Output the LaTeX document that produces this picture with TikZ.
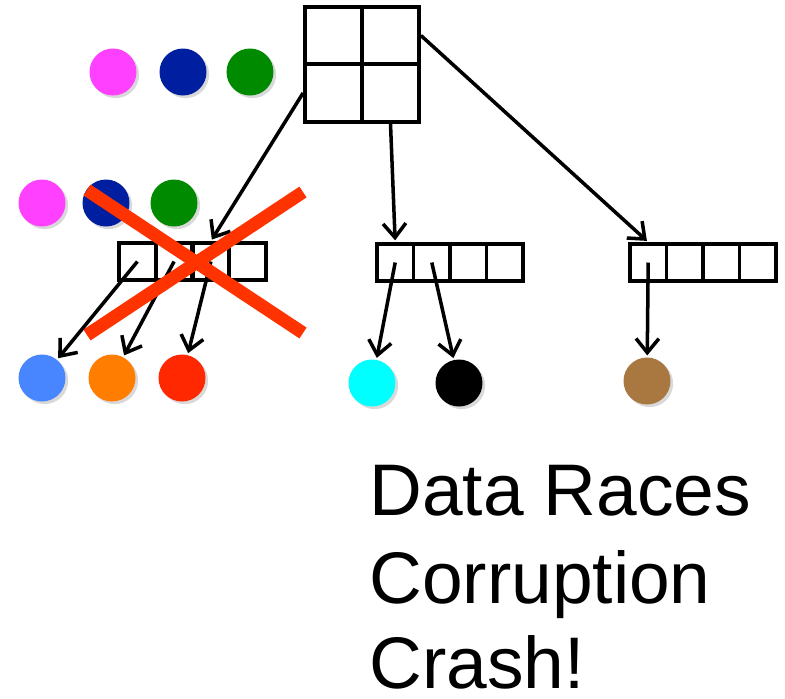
\documentclass[tikz,border=0pt]{standalone}
\usepackage{fontspec}
\setmainfont{Liberation Sans}
\usetikzlibrary{arrows.meta,positioning,shadows}

\definecolor{cMagenta}{RGB}{255,64,255}
\definecolor{cNavy}{RGB}{0,30,160}
\definecolor{cGreen}{RGB}{0,138,0}
\definecolor{cBlue}{RGB}{72,134,255}
\definecolor{cOrange}{RGB}{255,125,0}
\definecolor{cRed}{RGB}{255,40,0}
\definecolor{cCyan}{RGB}{0,255,255}
\definecolor{cBrown}{RGB}{168,120,64}
\definecolor{xred}{RGB}{255,51,0}

\begin{document}
\begin{tikzpicture}[
    x=0.02cm, y=-0.02cm,
    bucket/.style={
        rectangle,
        draw,
        line width=2.2pt,
        minimum width=1.14cm,
        minimum height=1.15cm,
        inner sep=0pt,
    },
    slot/.style={
        rectangle,
        draw,
        line width=2.2pt,
        minimum width=0.732cm,
        minimum height=0.74cm,
        inner sep=0pt,
    },
    ball/.style={
        circle,
        fill=#1,
        minimum size=0.94cm,
        inner sep=0pt,
        drop shadow={shadow xshift=1.5pt, shadow yshift=-1.5pt, opacity=0.3},
    },
    link/.style={
        -{Straight Barb[length=8pt, width=13pt]},
        line width=2pt,
        shorten >=1pt,
    },
    cross/.style={
        draw=xred,
        line width=7.4pt,
    },
    msg/.style={
        font=\fontsize{41.6}{48}\selectfont,
        anchor=base west,
        inner sep=0pt,
    },
]
\useasboundingbox (0,0) rectangle (785,698);

% === Root table ===
\node[bucket] (r11) at (333.5,35.5) {};
\node[bucket] (r12) at (390.5,35.5) {};
\node[bucket] (r21) at (333.5,93) {};
\node[bucket] (r22) at (390.5,93) {};

% === Waiting items ===
\node[ball=cMagenta] (q1) at (113,72) {};
\node[ball=cNavy] (q2) at (183,72) {};
\node[ball=cGreen] (q3) at (250,72) {};

\node[ball=cMagenta] (p1) at (42,203) {};
\node[ball=cNavy] (p2) at (106,203) {};
\node[ball=cGreen] (p3) at (174,203) {};

% === Leaf arrays ===
\node[slot] (tA1) at (137.4,261.5) {};
\node[slot] (tA2) at (174.1,261.5) {};
\node[slot] (tA3) at (210.9,261.5) {};
\node[slot] (tA4) at (247.6,261.5) {};

\node[slot] (tB1) at (395.2,262.5) {};
\node[slot] (tB2) at (431.8,262.5) {};
\node[slot] (tB3) at (468.2,262.5) {};
\node[slot] (tB4) at (504.8,262.5) {};

\node[slot] (tC1) at (648.2,262.5) {};
\node[slot] (tC2) at (684.8,262.5) {};
\node[slot] (tC3) at (721.2,262.5) {};
\node[slot] (tC4) at (757.8,262.5) {};

% === Stored items ===
\node[ball=cBlue] (v1) at (42,378) {};
\node[ball=cOrange] (v2) at (112,378) {};
\node[ball=cRed] (v3) at (182,378) {};
\node[ball=cCyan] (v4) at (372,383) {};
\node[ball=black] (v5) at (459,383) {};
\node[ball=cBrown] (v6) at (647,381) {};

% === Pointers ===
\draw[link] (r21.west) -- (tA3.north);
\draw[link] (r22.south) -- (tB1.north);
\draw[link] (r12.east) -- (tC1.north);

\draw[link] (tA1.center) -- (v1);
\draw[link] (tA2.center) -- (v2);
\draw[link] (tA3.center) -- (v3);
\draw[link] (tB1.center) -- (v4);
\draw[link] (tB2.center) -- (v5);
\draw[link] (tC1.center) -- (v6);

% === Broken array ===
\draw[cross] (87,190) -- (303,333);
\draw[cross] (303,192) -- (87,335);

% === Outcome ===
\node[msg] (m1) at (369,515) {Data Races};
\node[msg] (m2) at (369,603) {Corruption};
\node[msg] (m3) at (369,688) {Crash!};

\end{tikzpicture}
\end{document}
